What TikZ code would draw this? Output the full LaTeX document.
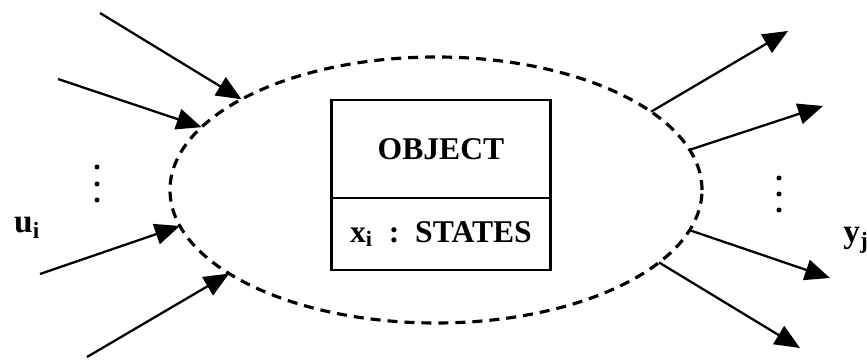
\documentclass[tikz,border=0pt]{standalone}
\usepackage{fontspec}
\setmainfont{Liberation Serif}
\usetikzlibrary{arrows.meta, positioning, shapes.geometric}

\begin{document}
\begin{tikzpicture}[
  lbl/.style={font=\fontsize{19}{22}\selectfont\bfseries},
  part/.style={draw, line width=1.4pt, minimum width=4.38cm, outer sep=0pt,
               inner sep=0pt, font=\fontsize{18}{21}\selectfont\bfseries},
  cloud/.style={ellipse, draw, line width=1.8pt,
                dash pattern=on 2mm off 1.4mm, minimum width=10.64cm,
                minimum height=5.32cm, inner sep=0pt, outer sep=0pt},
  arr/.style={-{Triangle[length=5mm, width=4.2mm]}, line width=1.3pt}
]
  \useasboundingbox (0,0) rectangle (17.34,7.22);

  \node[cloud] (obj) at (8.72,3.42) {};
  \node[part, minimum height=1.96cm] (name) at (8.82,4.24) {OBJECT};
  \node[part, minimum height=1.44cm, below=0pt of name] (states)
    {x\textsubscript{i}\enspace:\enspace STATES};

  % inputs
  \coordinate (u1) at (2.00,6.96);
  \coordinate (u2) at (1.16,5.64);
  \coordinate (u3) at (0.80,1.74);
  \coordinate (u4) at (1.74,0.08);
  \draw[arr] (u1) -- (obj.155);
  \draw[arr] (u2) -- (obj.165);
  \draw[arr] (u3) -- (obj.188);
  \draw[arr] (u4) -- (obj.202);
  \foreach \y in {3.88,3.54,3.22}
    \fill (1.94,\y) circle (0.05);
  \node[lbl, anchor=base west] (uin) at (0.16,2.56) {u\textsubscript{i}};

  % outputs
  \coordinate (y1) at (15.76,6.60);
  \coordinate (y2) at (16.46,5.10);
  \coordinate (y3) at (16.60,1.66);
  \coordinate (y4) at (16.00,0.26);
  \draw[arr] (obj.20) -- (y1);
  \draw[arr] (obj.9) -- (y2);
  \draw[arr] (obj.351) -- (y3);
  \draw[arr] (obj.342) -- (y4);
  \foreach \y in {3.66,3.34,3.02}
    \fill (15.58,\y) circle (0.05);
  \node[lbl, anchor=base west, inner sep=0pt] (yout) at (16.86,2.36)
    {y\textsubscript{j}};
\end{tikzpicture}
\end{document}
